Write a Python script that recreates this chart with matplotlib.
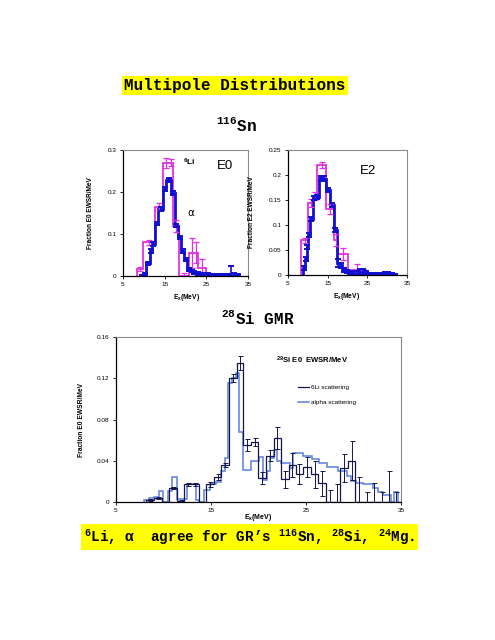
import matplotlib
matplotlib.use("Agg")
import matplotlib.pyplot as plt
from matplotlib.lines import Line2D
import numpy as np

plt.rcParams["font.family"] = ["Liberation Sans", "DejaVu Sans"]
plt.rcParams["mathtext.fontset"] = "custom"
plt.rcParams["mathtext.rm"] = "Liberation Mono:bold"
plt.rcParams["mathtext.it"] = "Liberation Sans:bold"
plt.rcParams["mathtext.bf"] = "Liberation Sans:bold"

# ---- 116Sn E0 (left panel) ----
e0_alpha_edges = [9.1, 9.8, 10.6, 11.4, 12.0, 12.6, 13.5, 14.6, 15.4, 16.6, 17.4,
                  18.2, 19.0, 19.7, 20.4, 21.1, 21.8, 22.5, 23.3, 24.1, 24.9, 25.7,
                  26.5, 27.3, 28.1, 28.9, 29.7, 30.5, 31.3, 32.1, 32.9]
e0_alpha = [0.0, 0.005, 0.03, 0.06, 0.076, 0.125, 0.16, 0.207, 0.228, 0.197, 0.12,
            0.092, 0.06, 0.04, 0.015, 0.012, 0.008, 0.006, 0.005, 0.004, 0.004,
            0.003, 0.002, 0.002, 0.002, 0.002, 0.002, 0.003, 0.003, 0.002]
e0_alpha_err = [0.002, 0.003, 0.004, 0.004, 0.004, 0.004, 0.004, 0.005, 0.005, 0.005,
                0.004, 0.004, 0.004, 0.004, 0.004, 0.003, 0.003, 0.003, 0.003, 0.003,
                0.003, 0.003, 0.003, 0.003, 0.003, 0.003, 0.003, 0.022, 0.004, 0.003]
e0_li_edges = [8.4, 9.9, 12.7, 14.6, 15.8, 17.0, 18.4, 20.9, 22.0, 23.0, 25.0]
e0_li = [0.017, 0.08, 0.165, 0.27, 0.27, 0.12, 0.0, 0.055, 0.055, 0.02]
e0_li_err = [0.004, 0.006, 0.008, 0.012, 0.008, 0.014, 0.008, 0.035, 0.025, 0.02]

# ---- 116Sn E2 (right panel) ----
e2_alpha_edges = [8.9, 9.3, 9.7, 10.1, 10.6, 11.2, 11.8, 12.7, 13.7, 14.5, 15.5, 16.5,
                  17.3, 18.0, 18.7, 19.5, 20.3, 21.1, 21.9, 22.7, 23.5, 24.3, 25.1,
                  25.9, 26.7, 27.5, 28.3, 29.1, 29.9, 30.7, 31.5, 32.3]
e2_alpha = [0.014, 0.033, 0.057, 0.08, 0.113, 0.155, 0.157, 0.194, 0.193, 0.17, 0.14,
            0.09, 0.025, 0.02, 0.01, 0.008, 0.006, 0.005, 0.005, 0.006, 0.007, 0.005,
            0.002, 0.002, 0.002, 0.002, 0.002, 0.003, 0.003, 0.002, 0.001]
e2_alpha_err = [0.004, 0.004, 0.004, 0.004, 0.004, 0.004, 0.004, 0.005, 0.005, 0.004,
                0.004, 0.004, 0.008, 0.005, 0.004, 0.003, 0.003, 0.003, 0.003, 0.006,
                0.006, 0.003, 0.002, 0.002, 0.002, 0.002, 0.002, 0.003, 0.004, 0.002,
                0.002]
e2_li_edges = [8.4, 10.1, 11.3, 12.3, 14.7, 16.6, 17.7, 20.2, 24.6]
e2_li = [0.07, 0.145, 0.158, 0.22, 0.133, 0.07, 0.043, 0.01]
e2_li_err = [0.005, 0.008, 0.008, 0.006, 0.01, 0.012, 0.012, 0.012]

# ---- 28Si E0 (bottom panel) ----
si_li_edges = [8.2, 9.0, 9.8, 10.6, 11.4, 12.2, 12.9, 13.7, 14.5, 15.3, 16.1, 16.9,
               17.7, 18.4, 19.2, 20.0, 20.8, 21.6, 22.4, 23.2, 23.9, 24.7, 25.5, 26.3,
               27.1, 27.9, 28.6, 29.4, 30.2, 31.0, 31.8, 32.6, 33.4, 34.1, 34.9]
si_li = [0.002, 0.004, 0.0, 0.014, 0.001, 0.017, 0.017, 0.0, 0.017, 0.024, 0.036,
         0.12, 0.135, 0.055, 0.058, 0.023, 0.045, 0.062, 0.022, 0.036, 0.027, 0.034,
         0.027, 0.018, 0.0, 0.0, 0.033, 0.04, 0.0, 0.0, 0.0, 0.0, 0.0, 0.0]
si_li_err = [0.001, 0.001, 0.0, 0.001, 0.001, 0.001, 0.001, 0.0, 0.002, 0.003, 0.002,
             0.004, 0.007, 0.006, 0.004, 0.006, 0.005, 0.011, 0.008, 0.012, 0.01, 0.01,
             0.013, 0.012, 0.012, 0.017, 0.014, 0.019, 0.024, 0.01, 0.018, 0.01, 0.03,
             0.01]
si_alpha_edges = [8.0, 8.5, 9.0, 9.5, 10.0, 10.5, 10.9, 11.4, 12.0, 12.5, 13.4, 13.7,
                  14.3, 14.9, 15.5, 16.1, 16.5, 16.8, 17.2, 17.6, 18.0, 18.4, 19.2,
                  20.1, 20.5, 20.9, 21.2, 21.6, 22.0, 22.4, 23.3, 23.6, 24.7, 25.6,
                  26.4, 27.2, 28.4, 29.3, 29.7, 30.3, 31.0, 32.1, 32.6, 33.1, 33.9,
                  34.3, 34.7]
si_alpha = [0.002, 0.004, 0.005, 0.011, 0.0, 0.011, 0.024, 0.003, 0.003, 0.017, 0.002,
            0.0, 0.012, 0.017, 0.019, 0.03, 0.043, 0.115, 0.12, 0.125, 0.068, 0.031,
            0.04, 0.044, 0.021, 0.03, 0.043, 0.05, 0.04, 0.038, 0.033, 0.048, 0.045,
            0.042, 0.038, 0.034, 0.03, 0.025, 0.02, 0.018, 0.017, 0.014, 0.01, 0.007,
            0.0, 0.01]

MAGENTA = "#e030e0"
BLUE = "#1010d0"
DARK = "#15154a"
LIGHT = "#5a7ee0"


def centers(edges):
    e = np.asarray(edges)
    return (e[:-1] + e[1:]) / 2


def errs(vals, err):
    v = np.asarray(vals)
    e = np.asarray(err)
    return [np.minimum(v, e), e]


def style(ax, yticks, ylabels):
    ax.set_xlim(5, 35)
    ax.set_xticks([5, 15, 25, 35])
    ax.set_yticks(yticks)
    ax.set_yticklabels(ylabels)
    ax.set_ylim(yticks[0], yticks[-1])
    ax.tick_params(direction="out", length=2.5, width=0.6, labelsize=4.6, pad=2)
    for s in ("left", "bottom"):
        ax.spines[s].set_color("black")
        ax.spines[s].set_linewidth(0.9)
    for s in ("top", "right"):
        ax.spines[s].set_color("#8a8a8a")
        ax.spines[s].set_linewidth(0.8)


fig = plt.figure(figsize=(4.95, 6.4), dpi=100)

fig.text(0.475, 0.867, "Multipole Distributions", ha="center", va="center",
         family="Liberation Mono", weight="bold", fontsize=11.5,
         bbox=dict(facecolor="#ffff00", edgecolor="none", pad=1.5))
fig.text(0.477, 0.805, r"$^{116}$Sn", ha="center", va="center",
         family="Liberation Mono", weight="bold", fontsize=11.5)
fig.text(0.521, 0.503, r"$^{28}$Si GMR", ha="center", va="center",
         family="Liberation Mono", weight="bold", fontsize=11.5)
fig.text(0.504, 0.161, r"$^{6}$Li, α  agree for GR’s $^{116}$Sn, $^{28}$Si, $^{24}$Mg.",
         ha="center", va="center", family=["Liberation Mono", "DejaVu Sans Mono"],
         weight="bold", fontsize=10.3,
         bbox=dict(facecolor="#ffff00", edgecolor="none", pad=2.2))

# left panel: E0
ax1 = fig.add_axes([0.2485, 0.5687, 0.2525, 0.1969])
ax1.stairs(e0_li, e0_li_edges, color=MAGENTA, lw=1.3, baseline=0)
ax1.errorbar(centers(e0_li_edges), e0_li, yerr=errs(e0_li, e0_li_err), fmt="none",
             ecolor=MAGENTA, elinewidth=0.9, capsize=2, capthick=0.9)
ax1.stairs(e0_alpha, e0_alpha_edges, color=BLUE, lw=2.0, baseline=0)
ax1.errorbar(centers(e0_alpha_edges), e0_alpha, yerr=errs(e0_alpha, e0_alpha_err),
             fmt="none", ecolor=BLUE, elinewidth=1.2, capsize=2, capthick=1.4)
style(ax1, [0, 0.1, 0.2, 0.3], ["0", "0.1", "0.2", "0.3"])
ax1.text(20.9, 0.27, r"$^{6}$Li", fontsize=6, weight="bold", ha="center", va="center")
ax1.text(29.6, 0.262, "E0", fontsize=9.5, ha="center", va="center")
ax1.text(21.3, 0.15, "α", fontsize=7.5, ha="center", va="center",
         family=["DejaVu Sans"])
ax1.set_xlabel(r"E$_x$(MeV)", fontsize=4.8, weight="bold")
ax1.set_ylabel("Fraction E0 EWSR/MeV", fontsize=4.7, weight="bold")
ax1.xaxis.set_label_coords(0.51, -0.125)
ax1.yaxis.set_label_coords(-0.232, 0.5)

# right panel: E2
ax2 = fig.add_axes([0.5818, 0.5703, 0.2404, 0.1953])
ax2.stairs(e2_li, e2_li_edges, color=MAGENTA, lw=1.3, baseline=0)
ax2.errorbar(centers(e2_li_edges), e2_li, yerr=errs(e2_li, e2_li_err), fmt="none",
             ecolor=MAGENTA, elinewidth=0.9, capsize=2, capthick=0.9)
ax2.stairs(e2_alpha, e2_alpha_edges, color=BLUE, lw=2.0, baseline=0)
ax2.errorbar(centers(e2_alpha_edges), e2_alpha, yerr=errs(e2_alpha, e2_alpha_err),
             fmt="none", ecolor=BLUE, elinewidth=1.2, capsize=2, capthick=1.4)
style(ax2, [0, 0.05, 0.1, 0.15, 0.2, 0.25],
      ["0", "0.05", "0.1", "0.15", "0.2", "0.25"])
ax2.text(25.2, 0.209, "E2", fontsize=9.5, ha="center", va="center")
ax2.set_xlabel(r"E$_x$(MeV)", fontsize=4.8, weight="bold")
ax2.set_ylabel("Fraction E2 EWSR/MeV", fontsize=4.7, weight="bold")
ax2.xaxis.set_label_coords(0.49, -0.13)
ax2.yaxis.set_label_coords(-0.277, 0.5)

# bottom panel: 28Si GMR
ax3 = fig.add_axes([0.2343, 0.2156, 0.5758, 0.2578])
ax3.stairs(si_alpha, si_alpha_edges, color=LIGHT, lw=1.1, baseline=0)
ax3.stairs(si_li, si_li_edges, color=DARK, lw=0.9, baseline=0)
ax3.errorbar(centers(si_li_edges), si_li, yerr=errs(si_li, si_li_err), fmt="none",
             ecolor=DARK, elinewidth=0.7, capsize=1.8, capthick=0.7)
style(ax3, [0, 0.04, 0.08, 0.12, 0.16], ["0", "0.04", "0.08", "0.12", "0.16"])
ax3.text(0.56, 0.86, r"$^{28}$Si E0  EWSR/MeV", transform=ax3.transAxes,
         fontsize=5.5, weight="bold", ha="left", va="center")
handles = [Line2D([], [], color=DARK, lw=0.9), Line2D([], [], color=LIGHT, lw=1.1)]
ax3.legend(handles, ["6Li scattering", "alpha scattering"], loc="upper left",
           bbox_to_anchor=(0.62, 0.745), frameon=False, fontsize=4.6,
           handlelength=1.6, handletextpad=0.3, labelspacing=1.5)
ax3.set_xlabel(r"E$_x$(MeV)", fontsize=5, weight="bold")
ax3.set_ylabel("Fraction E0 EWSR/MeV", fontsize=4.8, weight="bold")
ax3.xaxis.set_label_coords(0.5, -0.06)
ax3.yaxis.set_label_coords(-0.109, 0.5)

fig.savefig("out.png", dpi=100)
plt.close(fig)
